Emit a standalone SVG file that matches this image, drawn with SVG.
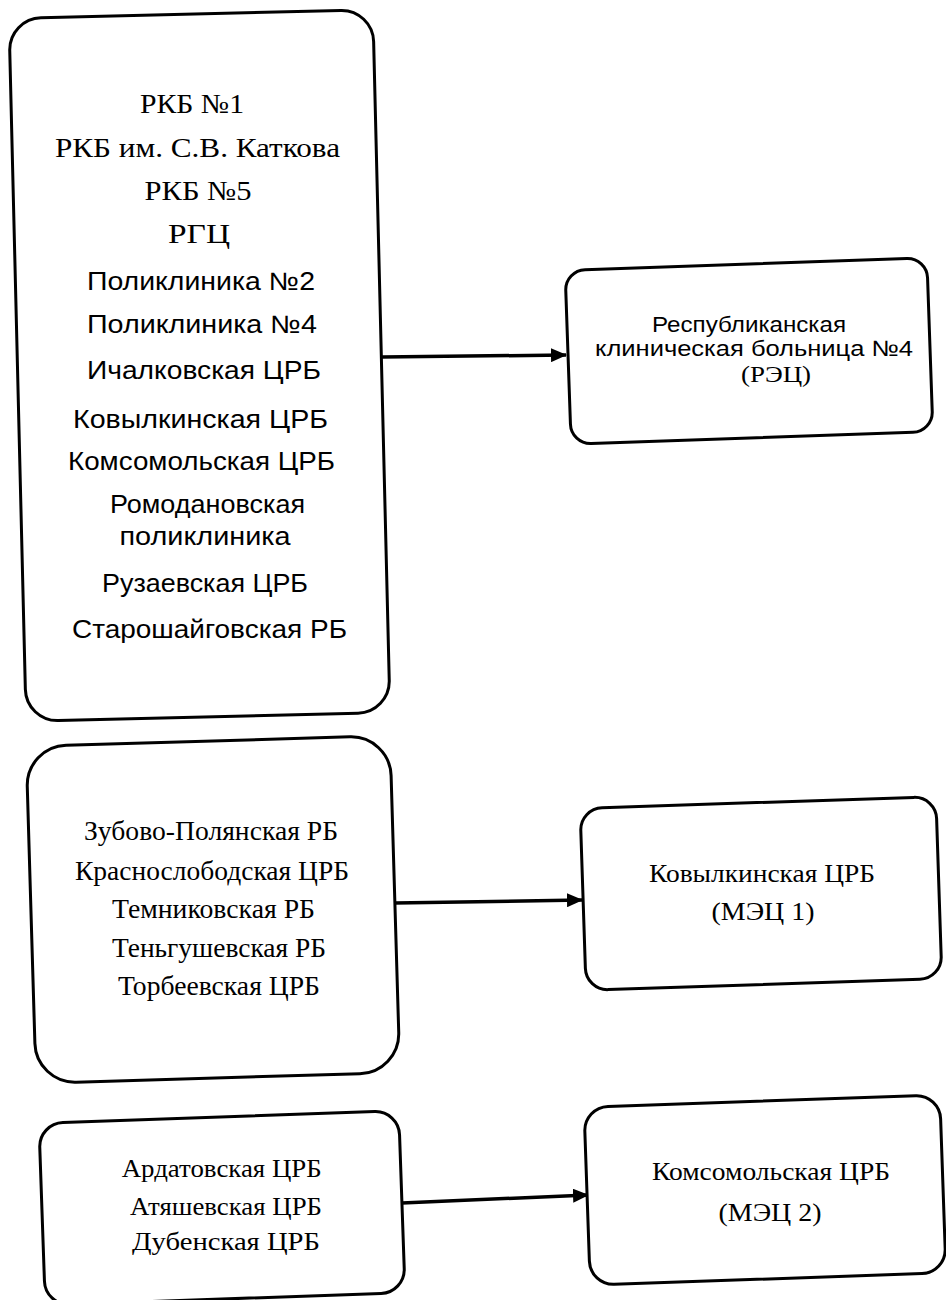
<svg xmlns="http://www.w3.org/2000/svg" width="946" height="1300" viewBox="0 0 946 1300">
<defs>
<style>
.box{fill:#fff;stroke:#000;stroke-width:3}
.s{font-family:"Liberation Serif","Times New Roman",serif;fill:#000;text-anchor:middle}
.a{font-family:"Liberation Sans",Arial,sans-serif;fill:#000;text-anchor:middle}
.ln{stroke:#000;stroke-width:3.5;fill:none}
</style>
<marker id="ah" markerWidth="16" markerHeight="14" refX="15" refY="7" orient="auto" markerUnits="userSpaceOnUse">
<path d="M0,0 L16,7 L0,14 Z" fill="#000"/>
</marker>
</defs>
<rect width="946" height="1300" fill="#fff"/>
<g id="connectors">
<line class="ln" x1="382" y1="357" x2="566" y2="355" marker-end="url(#ah)"/>
<line class="ln" x1="395" y1="903" x2="582" y2="900" marker-end="url(#ah)"/>
<line class="ln" x1="402" y1="1203" x2="588" y2="1195" marker-end="url(#ah)"/>
</g>
<g id="node-sources-1">
<rect class="box" x="17.5" y="14" width="364" height="703" rx="32" transform="rotate(-1.4 199.5 365.5)"/>
<text class="s" font-size="28" x="192" y="113" textLength="104" lengthAdjust="spacingAndGlyphs">РКБ №1</text>
<text class="s" font-size="28" x="197.5" y="157" textLength="285" lengthAdjust="spacingAndGlyphs">РКБ им. С.В. Каткова</text>
<text class="s" font-size="28" x="198" y="200" textLength="107" lengthAdjust="spacingAndGlyphs">РКБ №5</text>
<text class="s" font-size="28" x="199" y="243" textLength="62" lengthAdjust="spacingAndGlyphs">РГЦ</text>
<text class="a" font-size="25" x="201" y="290" textLength="228" lengthAdjust="spacingAndGlyphs">Поликлиника №2</text>
<text class="a" font-size="25" x="202" y="333" textLength="230" lengthAdjust="spacingAndGlyphs">Поликлиника №4</text>
<text class="a" font-size="25" x="204" y="379" textLength="234" lengthAdjust="spacingAndGlyphs">Ичалковская ЦРБ</text>
<text class="a" font-size="25" x="200.5" y="428" textLength="255" lengthAdjust="spacingAndGlyphs">Ковылкинская ЦРБ</text>
<text class="a" font-size="25" x="201.5" y="470" textLength="267" lengthAdjust="spacingAndGlyphs">Комсомольская ЦРБ</text>
<text class="a" font-size="25" x="207.5" y="513" textLength="195" lengthAdjust="spacingAndGlyphs">Ромодановская</text>
<text class="a" font-size="25" x="205" y="545" textLength="171" lengthAdjust="spacingAndGlyphs">поликлиника</text>
<text class="a" font-size="25" x="205" y="592" textLength="206" lengthAdjust="spacingAndGlyphs">Рузаевская ЦРБ</text>
<text class="a" font-size="25" x="209.5" y="638" textLength="275" lengthAdjust="spacingAndGlyphs">Старошайговская РБ</text>
</g>
<g id="node-rec">
<rect class="box" x="568" y="264" width="362" height="174" rx="20" transform="rotate(-2 749 351)"/>
<text class="a" font-size="22" x="749" y="332" textLength="194" lengthAdjust="spacingAndGlyphs">Республиканская</text>
<text class="a" font-size="22" x="754" y="356" textLength="318" lengthAdjust="spacingAndGlyphs">клиническая больница №4</text>
<text class="s" font-size="23" x="776" y="382" textLength="70" lengthAdjust="spacingAndGlyphs">(РЭЦ)</text>
</g>
<g id="node-sources-2">
<rect class="box" x="31" y="741" width="364" height="337" rx="40" transform="rotate(-1.7 213 909.5)"/>
<text class="s" font-size="27" x="211" y="840" textLength="254" lengthAdjust="spacingAndGlyphs">Зубово-Полянская РБ</text>
<text class="s" font-size="27" x="212" y="880" textLength="274" lengthAdjust="spacingAndGlyphs">Краснослободская ЦРБ</text>
<text class="s" font-size="27" x="213.5" y="918" textLength="203" lengthAdjust="spacingAndGlyphs">Темниковская РБ</text>
<text class="s" font-size="27" x="219" y="957" textLength="214" lengthAdjust="spacingAndGlyphs">Теньгушевская РБ</text>
<text class="s" font-size="27" x="219" y="995" textLength="202" lengthAdjust="spacingAndGlyphs">Торбеевская ЦРБ</text>
</g>
<g id="node-mec1">
<rect class="box" x="583" y="802.5" width="356" height="182" rx="22" transform="rotate(-1.9 761 893.5)"/>
<text class="s" font-size="26" x="762" y="882" textLength="226" lengthAdjust="spacingAndGlyphs">Ковылкинская ЦРБ</text>
<text class="s" font-size="26" x="763" y="920" textLength="103" lengthAdjust="spacingAndGlyphs">(МЭЦ 1)</text>
</g>
<g id="node-sources-3">
<rect class="box" x="42" y="1117" width="360" height="182" rx="24" transform="rotate(-2 222 1208)"/>
<text class="s" font-size="26" x="221.7" y="1177" textLength="200" lengthAdjust="spacingAndGlyphs">Ардатовская ЦРБ</text>
<text class="s" font-size="26" x="226" y="1215" textLength="192" lengthAdjust="spacingAndGlyphs">Атяшевская ЦРБ</text>
<text class="s" font-size="26" x="226" y="1250" textLength="188" lengthAdjust="spacingAndGlyphs">Дубенская ЦРБ</text>
</g>
<g id="node-mec2">
<rect class="box" x="587" y="1101" width="356" height="178" rx="24" transform="rotate(-2 765 1190)"/>
<text class="s" font-size="26" x="771" y="1180" textLength="238" lengthAdjust="spacingAndGlyphs">Комсомольская ЦРБ</text>
<text class="s" font-size="26" x="770" y="1221" textLength="103" lengthAdjust="spacingAndGlyphs">(МЭЦ 2)</text>
</g>
</svg>
